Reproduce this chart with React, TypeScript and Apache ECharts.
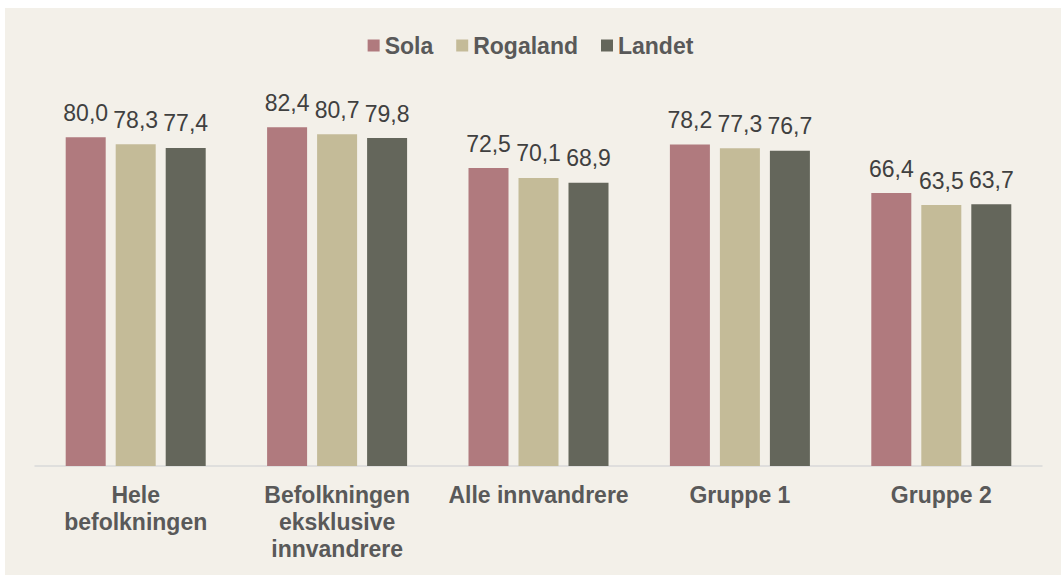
import React, { useEffect, useRef } from "react";
import * as echarts from "echarts";

const categories = [
  "Hele\nbefolkningen",
  "Befolkningen\neksklusive\ninnvandrere",
  "Alle innvandrere",
  "Gruppe 1",
  "Gruppe 2",
];
const seriesNames = ["Sola", "Rogaland", "Landet"];
const sola = [80.0, 82.4, 72.5, 78.2, 66.4];
const rogaland = [78.3, 80.7, 70.1, 77.3, 63.5];
const landet = [77.4, 79.8, 68.9, 76.7, 63.7];
const colors = ["#B07A7E", "#C4BB98", "#64665B"];

export default function App() {
  const ref = useRef<HTMLDivElement>(null);
  useEffect(() => {
    if (!ref.current) return;
    const chart = echarts.init(ref.current, null, { renderer: "svg" });
    const values = [sola, rogaland, landet];
    chart.setOption({
      animation: false,
      backgroundColor: "#ffffff",
      graphic: [
        {
          type: "rect",
          z: -10,
          silent: true,
          shape: { x: 5, y: 8, width: 1056, height: 567 },
          style: { fill: "#F3F0E9" },
        },
      ],
      legend: {
        top: 29,
        left: "center",
        itemWidth: 12,
        itemHeight: 12,
        itemGap: 23,
        icon: "rect",
        textStyle: {
          fontFamily: "Liberation Sans, Arial, sans-serif",
          fontSize: 23,
          fontWeight: "bold",
          color: "#595959",
        },
        data: seriesNames,
      },
      grid: { left: 35, right: 19, top: 55, bottom: 109, containLabel: false },
      xAxis: {
        type: "category",
        data: categories,
        axisLine: { show: true, lineStyle: { color: "#D9D9D9", width: 1.5 } },
        axisTick: { show: false },
        axisLabel: {
          interval: 0,
          margin: 15,
          fontFamily: "Liberation Sans, Arial, sans-serif",
          fontSize: 23,
          fontWeight: "bold",
          lineHeight: 27,
          color: "#595959",
        },
      },
      yAxis: {
        type: "value",
        min: 0,
        max: 100,
        show: false,
        splitLine: { show: false },
      },
      series: seriesNames.map((name, i) => ({
        name,
        type: "bar",
        data: values[i],
        barWidth: 40,
        barGap: "25%",
        itemStyle: { color: colors[i] },
        label: {
          show: true,
          position: "top",
          distance: 13,
          fontFamily: "Liberation Sans, Arial, sans-serif",
          fontSize: 23,
          color: "#404040",
          formatter: (p: any) => Number(p.value).toFixed(1).replace(".", ","),
        },
      })),
    });
    return () => chart.dispose();
  }, []);
  return (
    <div
      ref={ref}
      style={{ position: "fixed", left: 0, top: 0, width: 1061, height: 575 }}
    />
  );
}
